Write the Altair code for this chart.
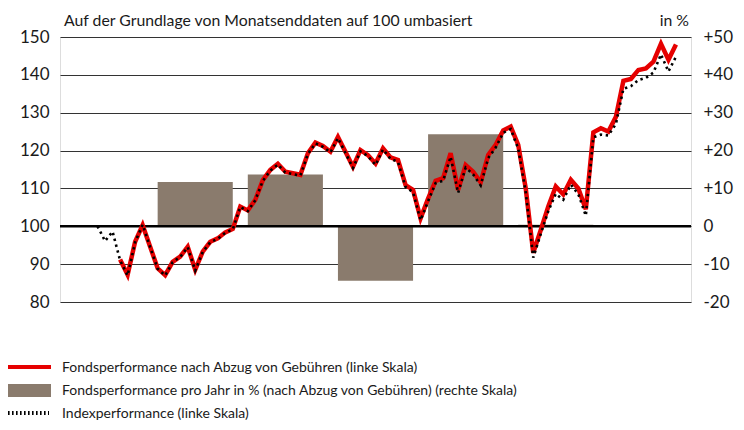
import altair as alt
import pandas as pd

# ---------------- data ----------------
fund_start = "2015-08"   # first month-end of the fund line
fund_values = [
    91.2, 87.2, 95.9, 100.3, 94.6, 88.9, 87.1, 90.6, 92.0, 94.6, 88.5, 93.3,
    95.9, 96.8, 98.4, 99.3, 105.2, 104.2, 107.0, 112.2, 114.9, 116.5, 114.4, 114.0,
    113.6, 119.3, 122.1, 121.2, 119.7, 123.6, 119.7, 115.7, 120.1, 118.8, 116.6, 120.6,
    118.2, 117.5, 110.9, 109.6, 102.1, 107.3, 112.0, 112.7, 119.3, 109.6, 116.2, 114.4,
    111.6, 118.8, 121.5, 125.3, 126.3, 121.5, 110.0, 93.0, 99.0, 105.2, 110.5, 108.4,
    112.3, 110.0, 104.5, 124.8, 125.9, 125.0, 128.9, 138.4, 138.9, 141.3, 141.7, 143.5,
    148.2, 144.0, 148.0,
]
index_start = "2015-05"
index_values = [
    100.0, 96.1, 98.6, 91.0, 87.0, 95.8, 100.4, 94.5, 88.8, 87.0, 90.5, 91.9,
    94.5, 88.3, 93.2, 95.8, 96.7, 98.3, 99.2, 105.1, 104.0, 106.9, 112.0, 114.7,
    116.3, 114.2, 113.8, 113.4, 119.1, 121.9, 121.0, 119.5, 123.3, 119.4, 115.4, 119.8,
    118.5, 116.2, 120.3, 117.8, 117.0, 110.4, 109.0, 101.6, 106.6, 111.4, 112.0, 118.4,
    108.8, 115.5, 113.7, 110.8, 118.0, 120.8, 124.7, 125.7, 120.5, 109.0, 91.7, 98.0,
    104.0, 108.6, 107.0, 111.0, 108.5, 102.8, 123.5, 124.2, 124.0, 127.0, 136.3, 137.0,
    138.6, 139.2, 140.6, 145.4, 140.9, 144.8,
]
bar_years = [2016, 2017, 2018, 2019, 2020]
bar_values = [11.7, 13.7, -14.4, 24.3, 0.4]
year_labels = [2015, 2016, 2017, 2018, 2019, 2020, 2021]
left_ticks = [80, 90, 100, 110, 120, 130, 140, 150]
right_ticks = [-20, -10, 0, 10, 20, 30, 40, 50]

title_text = "Auf der Grundlage von Monatsenddaten auf 100 umbasiert"
unit_text = "in %"
legend_texts = [
    "Fondsperformance nach Abzug von Gebühren (linke Skala)",
    "Fondsperformance pro Jahr in % (nach Abzug von Gebühren) (rechte Skala)",
    "Indexperformance (linke Skala)",
]

# ---------------- build tables ----------------
BASE_YEAR = 2015


def month_positions(start, n):
    y, m = map(int, start.split("-"))
    first = (y - BASE_YEAR) * 12 + m
    return [first + i for i in range(n)]


fund_df = pd.DataFrame({"m": month_positions(fund_start, len(fund_values)), "v": fund_values})
index_df = pd.DataFrame({"m": month_positions(index_start, len(index_values)), "v": index_values})
bars_df = pd.DataFrame({
    "x0": [(y - BASE_YEAR) * 12 + 1 for y in bar_years],
    "x1": [(y - BASE_YEAR) * 12 + 11 for y in bar_years],
    "v": bar_values,
    "b": [0] * len(bar_values),
})
year_pos = [(y - BASE_YEAR) * 12 + 6.5 for y in year_labels]

FONT = "Lato, Liberation Sans, sans-serif"
RED = "#e60000"
BROWN = "#8a7b6d"
TXT = "#1a1a1a"

xscale = alt.Scale(domain=[0, 84], nice=False, zero=False)
lscale = alt.Scale(domain=[80, 150], nice=False, zero=False)
rscale = alt.Scale(domain=[-20, 50], nice=False, zero=False)

left_axis = alt.Axis(
    orient="left", values=left_ticks, grid=True, gridColor="#333333", gridWidth=1,
    domain=False, ticks=False, labelPadding=11, labelFontSize=17, labelColor=TXT,
    labelFont=FONT, title=None,
)
right_axis = alt.Axis(
    orient="right", values=right_ticks, grid=False, domain=False, ticks=False,
    labelPadding=12, labelFontSize=17, labelColor=TXT, labelFont=FONT, title=None,
    labelExpr="datum.value > 0 ? '+' + datum.value : '' + datum.value",
)
x_axis = alt.Axis(
    orient="bottom", values=year_pos, grid=False, domain=False, ticks=False,
    labelPadding=8, labelFontSize=17.5, labelColor=TXT, labelFont=FONT, title=None,
    labelExpr=f"'' + ({BASE_YEAR} + floor(datum.value / 12))",
)

bars = alt.Chart(bars_df).mark_rect(color=BROWN).encode(
    x=alt.X("x0:Q", scale=xscale, axis=None),
    x2="x1:Q",
    y=alt.Y("v:Q", scale=rscale, axis=right_axis),
    y2="b:Q",
)

zero_line = alt.Chart(pd.DataFrame({"v": [100]})).mark_rule(color="#000000", strokeWidth=2.5).encode(
    y=alt.Y("v:Q", scale=lscale, axis=None),
)

fund_line = alt.Chart(fund_df).mark_line(color=RED, strokeWidth=4.5, strokeJoin="miter").encode(
    x=alt.X("m:Q", scale=xscale, axis=x_axis),
    y=alt.Y("v:Q", scale=lscale, axis=left_axis),
)

index_line = alt.Chart(index_df).mark_line(
    color="#000000", strokeWidth=2.6, strokeDash=[2.4, 3.6]
).encode(
    x=alt.X("m:Q", scale=xscale, axis=None),
    y=alt.Y("v:Q", scale=lscale, axis=None),
)

# titles
title = alt.Chart(pd.DataFrame({"t": [title_text]})).mark_text(
    align="left", baseline="middle", fontSize=15.8, font=FONT, color=TXT
).encode(x=alt.value(4), y=alt.value(-16), text="t:N")
unit = alt.Chart(pd.DataFrame({"t": [unit_text]})).mark_text(
    align="right", baseline="middle", fontSize=15.8, font=FONT, color=TXT
).encode(x=alt.value(629), y=alt.value(-16), text="t:N")

# legend
leg_red = alt.Chart(pd.DataFrame({"a": [0]})).mark_rule(color=RED, strokeWidth=4).encode(
    x=alt.value(-52), x2=alt.value(-9), y=alt.value(330)
)
leg_bar = alt.Chart(pd.DataFrame({"a": [0]})).mark_rect(color=BROWN).encode(
    x=alt.value(-52), x2=alt.value(-9), y=alt.value(347), y2=alt.value(360)
)
leg_dot = alt.Chart(pd.DataFrame({"a": [0]})).mark_rule(
    color="#000000", strokeWidth=4, strokeDash=[1.6, 2.4]
).encode(x=alt.value(-52), x2=alt.value(-11), y=alt.value(376))
leg_txt = alt.Chart(pd.DataFrame({"t": legend_texts, "yy": [335, 358, 381]})).mark_text(
    align="left", baseline="alphabetic", fontSize=14, font=FONT, color=TXT
).encode(x=alt.value(2), y=alt.Y("yy:Q", scale=alt.Scale(domain=[0, 265], range=[0, 265]), axis=None), text="t:N")

chart = alt.layer(
    bars, zero_line, fund_line, index_line, title, unit, leg_red, leg_bar, leg_dot, leg_txt
).resolve_scale(y="independent").properties(
    width=631, height=265,
    autosize=alt.AutoSizeParams(type="none"),
    padding={"left": 52, "top": 29, "right": 45, "bottom": 120},
).configure_view(stroke=None).configure(font=FONT)

chart.save("out.html", embed_options={"renderer": "svg", "actions": False})
